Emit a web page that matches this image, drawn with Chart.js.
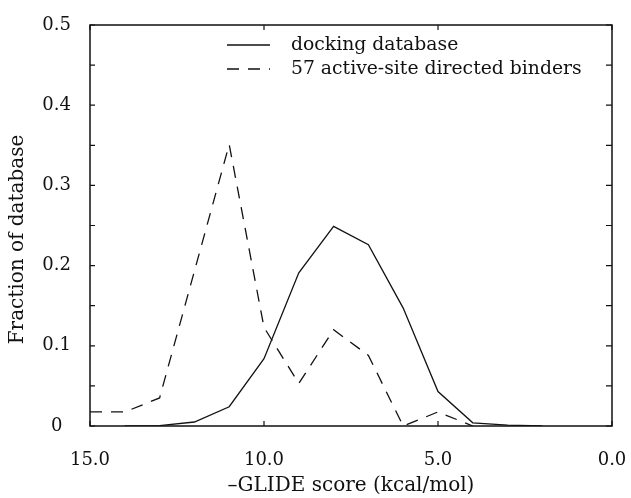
<!DOCTYPE html>
<html>
<head>
<meta charset="utf-8">
<script src="https://cdn.jsdelivr.net/npm/chart.js@4.4.0/dist/chart.umd.min.js"></script>
<style>
  html, body { margin: 0; padding: 0; background: #fff; }
  #wrap { width: 631px; height: 498px; }
</style>
</head>
<body>
<div id="wrap"><canvas id="glideChart"></canvas></div>
<script>
// -GLIDE score bins (kcal/mol)
const scores = [15, 14, 13, 12, 11, 10, 9, 8, 7, 6, 5, 4, 3, 2];
// fraction of the docking database per bin
const dockingDb = [null, 0, 0.0005, 0.005, 0.024, 0.084, 0.191, 0.249, 0.226, 0.147, 0.043, 0.004, 0.001, 0];
// fraction of the 57 active-site directed binders per bin
const binders = [0.0175, 0.0175, 0.035, 0.193, 0.351, 0.123, 0.053, 0.12, 0.088, 0, 0.0175, 0, null, null];
const xTicks = [15, 10, 5, 0];
const yTicks = [0, 0.1, 0.2, 0.3, 0.4, 0.5];
const yTitle = "Fraction of database";

const FONT = "'DejaVu Serif', serif";
const INK = "#111";

function toPoints(vals) {
    return scores.map(function (s, i) { return { x: s, y: vals[i] }; });
}

// frame with inward tick marks, like the original plot
const framePlugin = {
    id: "frame",
    afterDraw: function (chart) {
        const ctx = chart.ctx;
        const a = chart.chartArea;
        const xs = chart.scales.x, ys = chart.scales.y;
        ctx.save();
        ctx.strokeStyle = INK;
        ctx.lineWidth = 1.5;
        ctx.strokeRect(a.left, a.top, a.right - a.left, a.bottom - a.top);
        ctx.lineWidth = 1.2;
        ctx.beginPath();
        for (let v = 0; v <= 0.5001; v += 0.05) {
            const py = ys.getPixelForValue(v);
            ctx.moveTo(a.left, py); ctx.lineTo(a.left + 5, py);
            ctx.moveTo(a.right, py); ctx.lineTo(a.right - 6, py);
        }
        xTicks.forEach(function (v) {
            const px = xs.getPixelForValue(v);
            ctx.moveTo(px, a.bottom); ctx.lineTo(px, a.bottom - 5);
            ctx.moveTo(px, a.top); ctx.lineTo(px, a.top + 5);
        });
        ctx.stroke();

        // y axis title, sits a little below the middle in the original
        ctx.font = "20px " + FONT;
        ctx.fillStyle = INK;
        ctx.textAlign = "center";
        ctx.textBaseline = "middle";
        ctx.translate(18, (a.top + a.bottom) / 2 + 14);
        ctx.rotate(-Math.PI / 2);
        ctx.fillText(yTitle, 0, 0);
        ctx.restore();
    }
};

// legend drawn inside the plot, top middle
const legendPlugin = {
    id: "innerLegend",
    afterDraw: function (chart) {
        const ctx = chart.ctx;
        const a = chart.chartArea;
        ctx.save();
        ctx.font = "18.8px " + FONT;
        ctx.fillStyle = INK;
        ctx.textBaseline = "middle";
        chart.data.datasets.forEach(function (ds, i) {
            const y = a.top + 20 + i * 24;
            ctx.strokeStyle = INK;
            ctx.lineWidth = 1.3;
            ctx.setLineDash(ds.borderDash || []);
            ctx.beginPath();
            ctx.moveTo(a.left + 137, y);
            ctx.lineTo(a.left + 180, y);
            ctx.stroke();
            ctx.setLineDash([]);
            ctx.fillText(ds.label, a.left + 201, y);
        });
        ctx.restore();
    }
};

document.addEventListener("DOMContentLoaded", function () {
    Chart.defaults.font.family = FONT;
    Chart.defaults.font.size = 18;
    Chart.defaults.color = INK;

    const ctx = document.getElementById("glideChart").getContext("2d");
    new Chart(ctx, {
        type: "line",
        data: {
            datasets: [
                {
                    label: "docking database",
                    data: toPoints(dockingDb),
                    borderColor: INK,
                    borderWidth: 1.3,
                    pointRadius: 0,
                    tension: 0,
                    fill: false,
                },
                {
                    label: "57 active-site directed binders",
                    data: toPoints(binders),
                    borderColor: INK,
                    borderWidth: 1.3,
                    borderDash: [12, 9],
                    pointRadius: 0,
                    tension: 0,
                    fill: false,
                },
            ],
        },
        options: {
            responsive: true,
            maintainAspectRatio: false,
            animation: false,
            layout: { padding: { left: 0, right: 19, top: 25, bottom: 0 } },
            plugins: {
                legend: { display: false },
                tooltip: { enabled: false },
            },
            scales: {
                x: {
                    type: "linear",
                    reverse: true,
                    min: 0,
                    max: 15,
                    afterBuildTicks: function (scale) {
                        scale.ticks = xTicks.map(function (v) { return { value: v }; });
                    },
                    afterFit: function (scale) {
                        scale.height = 72;
                        scale.paddingLeft = 0;
                        scale.paddingRight = 0;
                    },
                    grid: { display: false },
                    border: { display: false },
                    ticks: {
                        padding: 16,
                        maxRotation: 0,
                        callback: function (v) { return Number(v).toFixed(1); },
                    },
                    title: {
                        display: true,
                        text: "\u2013GLIDE score (kcal/mol)",
                        font: { size: 20 },
                        padding: { top: 0, bottom: 0 },
                    },
                },
                y: {
                    min: 0,
                    max: 0.5,
                    afterBuildTicks: function (scale) {
                        scale.ticks = yTicks.map(function (v) { return { value: v }; });
                    },
                    afterFit: function (scale) {
                        scale.width = 90;
                        scale.paddingTop = 0;
                        scale.paddingBottom = 0;
                    },
                    grid: { display: false },
                    border: { display: false },
                    ticks: {
                        padding: 11,
                        crossAlign: "center",
                        callback: function (v) { return v === 0 ? "0" : Number(v).toFixed(1); },
                    },
                },
            },
        },
        plugins: [framePlugin, legendPlugin],
    });
});
</script>
</body>
</html>
